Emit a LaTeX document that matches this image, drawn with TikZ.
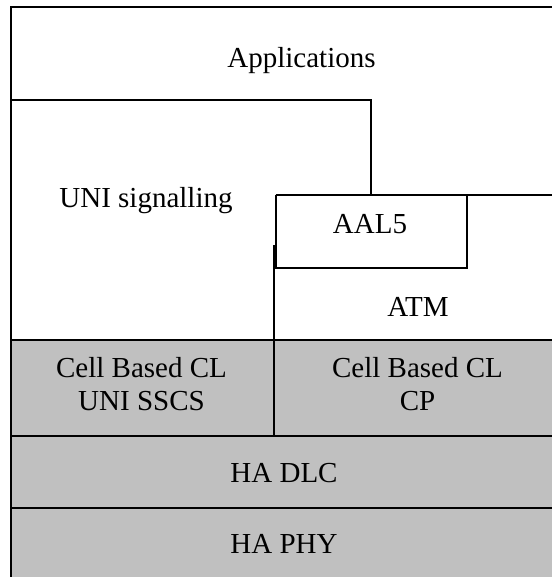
\documentclass[tikz,border=0pt]{standalone}
\usepackage{fontspec}
\setmainfont{Liberation Serif}
\definecolor{layergray}{RGB}{192,192,192}
\begin{document}
\begin{tikzpicture}[x=0.5pt,y=-0.5pt,
  rule/.style={line width=1pt,black},
  label/.style={anchor=base,inner sep=0pt,font=\fontsize{14.5}{16}\selectfont}]
\useasboundingbox (0,0) rectangle (552,577);

% lower shaded layers
\fill[layergray] (10.5,340) rectangle (552,577);

% outer frame (left and top)
\draw[rule] (10.5,577) -- (10.5,7.5) -- (552,7.5);

% Applications / UNI signalling boundary
\draw[rule] (10.5,100) -- (370.5,100) -- (370.5,195.5);
\draw[rule] (275.5,195.5) -- (552,195.5);

% AAL5 box
\draw[rule] (466.5,195.5) -- (466.5,268) -- (274,268);
\draw[rule] (275.5,195.5) -- (275.5,268);

% divider between signalling side and user-plane side
\draw[rule] (274,245) -- (274,435.5);

% layer separators
\draw[rule] (10.5,340) -- (552,340);
\draw[rule] (10.5,435.5) -- (552,435.5);
\draw[rule] (10.5,507.5) -- (552,507.5);

% layer names
\node[label] (apps) at (301.5,68) {Applications};
\node[label] (unisig) at (146,207) {UNI signalling};
\node[label] (aal5) at (370,234) {AAL5};
\node[label] (atm) at (418,316.5) {ATM};
\node[label] (cbclA) at (141.5,377) {Cell Based CL};
\node[label] (sscs) at (141.5,410) {UNI SSCS};
\node[label] (cbclB) at (417.5,377) {Cell Based CL};
\node[label] (cp) at (417.5,410) {CP};
\node[label] (dlc) at (284,482) {HA DLC};
\node[label] (phy) at (284,553) {HA PHY};
\end{tikzpicture}
\end{document}
